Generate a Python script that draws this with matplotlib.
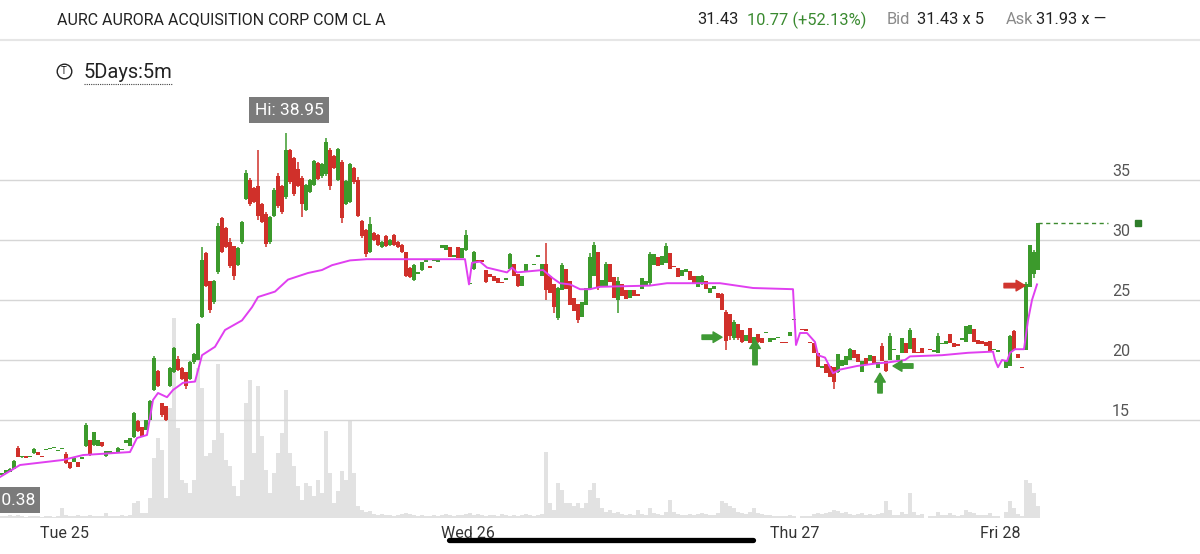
import matplotlib.pyplot as plt
import numpy as np
from matplotlib.lines import Line2D

plt.rcParams['font.family'] = ['Roboto', 'DejaVu Sans']

# 5 minute bars, AURC, one list entry per bar (nan = no trade)
opens = [
    10.4, 10.55, 10.7, 10.95, 12.7, 11.9, 11.88, 11.9, 12.25, 12.3,
    11.93, 12.48, 12.55, 12.63, 12.4, 12.55, 12.2, 11.5, 11.5, 11.5,
    11.78, 12.8, 13.3, 12.9, 12.8, 13.2, 12.0, 12.28, 12.28, 12.3,
    12.48, 13.1, 12.8, 13.6, 14.9, 14.4, 14.2, 15.0, 17.5, 19.1,
    16.4, 16.2, 17.8, 19.0, 20.1, 19.3, 19.0, 18.4, 19.8, 20.0,
    23.6, 28.9, 26.6, 24.8, 27.3, 31.8, 31.0, 29.8, 29.5, 27.9,
    29.8, 33.4, 35.0, 34.3, 34.5, 33.0, 32.2, 29.8, 32.0, 35.3,
    34.5, 33.6, 37.5, 36.8, 35.9, 35.2, 32.5, 34.0, 34.6, 36.4,
    35.3, 35.5, 37.5, 37.0, 35.0, 36.5, 33.0, 33.2, 36.0, 35.0,
    31.6, 30.8, 29.0, 30.6, 30.4, 29.4, 30.3, 29.6, 30.4, 29.8,
    29.6, 29.0, 27.7, 26.7, 27.2, 27.5, 28.2, 27.73, 28.25, 28.2,
    29.3, 29.2, 29.4, 28.6, 29.4, 28.5, 29.2, 26.3, 27.6, 28.23,
    28.23, 27.5, 27.2, 27.0, 26.8, 26.43, 26.7, 27.6, 28.0, 27.2,
    26.2, 27.3, 27.3, 27.9, 28.6, 27.0, 28.0, 27.0, 26.3, 23.5,
    25.8, 27.6, 26.6, 25.2, 24.7, 23.6, 24.6, 25.9, 27.0, 29.0,
    26.2, 26.2, 28.0, 26.9, 25.0, 26.3, 25.8, 25.2, 25.8, 25.5,
    25.9, 26.2, 26.4, 27.9, 28.6, 27.9, 28.1, 28.9, 27.78, 27.7,
    27.0, 27.3, 27.4, 27.0, 26.1, 26.3, 26.6, 25.6, 25.9, 25.6,
    25.5, 24.0, 23.8, 21.8, 23.0, 22.5, 21.6, 22.7, 21.4, 22.2,
    21.8, 22.25, 21.5, 21.7, 21.8, 21.42, 21.42, 22.0, 23.3, np.nan,
    22.53, 22.48, 21.43, 21.4, 20.6, 19.3, 19.7, 19.5, 19.4, 19.0,
    19.5, 19.6, 20.0, 20.8, 20.5, 19.0, 20.2, 19.9, 20.3, 19.3,
    21.2, 19.9, 20.0, 20.8, 20.0, 20.6, 21.4, 20.9, 21.8, 20.58,
    21.0, np.nan, 20.83, 20.7, 20.6, 21.3, 21.3, 22.2, 21.4, 21.23,
    21.7, 21.5, 22.2, 22.6, 21.7, 21.6, 21.5, 21.6, 20.8, 20.7,
    np.nan, 19.3, 19.5, 22.4, 20.5, 19.33, 20.8, 26.1, 27.2, 27.5,
]
closes = [
    10.55, 10.8, 10.95, 11.6, 11.95, 11.9, 11.85, 11.92, 12.6, 12.1,
    11.9, 12.5, 12.57, 12.65, 12.42, 12.57, 11.4, 11.0, 11.8, 11.1,
    11.8, 14.6, 12.1, 14.0, 13.3, 12.8, 12.4, 12.3, 12.25, 12.7,
    12.5, 13.3, 13.5, 15.6, 14.1, 13.6, 15.0, 16.6, 20.2, 17.8,
    15.4, 15.0, 19.3, 21.0, 19.2, 18.4, 17.8, 19.8, 20.5, 23.0,
    28.3, 26.2, 24.2, 26.6, 31.2, 29.0, 29.4, 27.8, 27.0, 29.3,
    31.5, 35.6, 33.0, 33.2, 32.0, 31.5, 29.7, 31.9, 34.2, 32.8,
    32.3, 37.5, 34.8, 33.8, 34.5, 33.0, 34.6, 35.0, 36.6, 35.1,
    36.3, 38.2, 34.5, 36.0, 37.6, 31.8, 34.9, 36.3, 34.8, 32.0,
    30.3, 28.8, 31.3, 30.0, 29.6, 29.8, 29.5, 30.0, 29.6, 29.4,
    29.0, 27.0, 26.9, 27.9, 27.22, 28.2, 28.22, 27.7, 28.27, 28.22,
    29.6, 29.6, 28.6, 28.62, 28.5, 29.3, 30.4, 26.32, 29.0, 28.2,
    28.2, 26.5, 26.9, 26.6, 26.4, 26.4, 26.72, 28.8, 27.0, 26.2,
    27.0, 28.0, 27.32, 27.92, 28.62, 28.0, 25.8, 25.6, 24.4, 26.0,
    27.9, 25.9, 24.6, 24.1, 23.3, 24.8, 26.0, 28.6, 29.6, 26.0,
    26.7, 28.0, 26.5, 25.2, 26.6, 25.3, 25.1, 25.8, 25.3, 25.3,
    26.8, 26.6, 28.8, 28.8, 27.8, 28.7, 29.5, 27.6, 27.75, 26.9,
    27.5, 27.6, 26.7, 26.4, 27.0, 27.0, 25.9, 26.0, 26.2, 25.2,
    24.2, 21.6, 22.0, 23.2, 21.8, 21.5, 22.1, 21.4, 21.9, 21.5,
    21.4, 22.27, 21.8, 21.72, 21.82, 21.4, 21.4, 22.3, 23.32, np.nan,
    22.5, 22.45, 21.4, 20.6, 19.4, 19.5, 18.9, 18.6, 18.2, 20.5,
    20.0, 20.3, 20.9, 20.2, 19.8, 19.9, 19.7, 20.4, 19.7, 19.8,
    19.9, 19.1, 22.0, 20.82, 20.4, 21.8, 20.6, 22.5, 20.6, 20.55,
    20.6, np.nan, 20.8, 20.72, 22.0, 21.32, 21.6, 21.4, 21.1, 21.2,
    21.72, 22.8, 22.9, 21.5, 21.3, 21.3, 21.2, 20.7, 20.82, 20.72,
    np.nan, 20.0, 22.0, 20.8, 20.2, 19.3, 26.3, 29.6, 29.0, 31.43,
]
highs = [
    10.6, 10.85, 11.0, 11.7, 12.8, 11.95, 11.88, 11.92, 12.7, 12.3,
    11.93, 12.5, 12.57, 12.65, 12.42, 12.57, 12.3, 11.5, 11.8, 11.5,
    11.8, 14.75, 13.3, 14.0, 13.3, 13.2, 12.4, 12.3, 12.28, 12.75,
    12.5, 13.3, 13.5, 15.7, 15.0, 14.4, 15.0, 16.7, 20.3, 19.2,
    16.4, 16.2, 19.4, 21.1, 20.3, 19.4, 19.0, 19.9, 20.6, 23.1,
    29.4, 29.0, 26.6, 26.7, 31.4, 31.9, 31.1, 30.2, 29.5, 29.4,
    31.6, 35.8, 35.2, 34.4, 37.5, 33.1, 32.3, 32.0, 34.3, 35.6,
    34.6, 38.95, 37.6, 36.9, 36.5, 35.3, 34.7, 35.1, 36.7, 36.5,
    36.4, 38.5, 37.7, 37.1, 37.7, 36.7, 35.0, 36.4, 36.1, 35.25,
    31.7, 30.9, 31.9, 30.7, 30.5, 29.9, 30.4, 30.1, 30.5, 29.9,
    29.7, 29.0, 27.75, 28.0, 27.22, 28.2, 28.22, 27.73, 28.27, 28.22,
    29.6, 29.6, 29.4, 28.62, 29.4, 29.3, 30.8, 26.32, 29.1, 28.23,
    28.23, 27.5, 27.2, 27.0, 26.8, 26.43, 26.72, 28.9, 28.0, 27.2,
    27.0, 28.0, 27.32, 27.92, 28.62, 28.0, 29.75, 27.0, 26.3, 26.1,
    28.1, 27.6, 26.6, 25.2, 24.7, 24.8, 26.0, 28.9, 29.8, 29.0,
    26.7, 28.2, 28.0, 26.9, 26.9, 26.3, 25.8, 25.8, 25.8, 25.5,
    26.8, 26.6, 29.0, 28.8, 28.6, 28.7, 29.75, 28.9, 27.78, 27.7,
    27.5, 27.6, 27.4, 27.0, 27.0, 27.1, 26.6, 26.0, 26.2, 25.6,
    25.6, 24.2, 23.8, 23.3, 23.0, 22.5, 22.1, 22.7, 21.9, 22.2,
    21.8, 22.27, 21.8, 21.72, 21.82, 21.42, 21.42, 22.3, 23.32, np.nan,
    22.53, 22.48, 21.43, 21.4, 20.6, 19.5, 19.7, 19.5, 19.4, 20.5,
    20.0, 20.3, 21.0, 20.8, 20.5, 19.9, 20.2, 20.4, 20.3, 19.8,
    21.4, 19.9, 22.25, 20.82, 20.4, 21.8, 21.4, 22.7, 21.8, 20.58,
    21.0, np.nan, 20.83, 20.72, 22.25, 21.32, 21.6, 22.2, 21.4, 21.23,
    21.72, 22.8, 22.9, 22.6, 21.7, 21.6, 21.5, 21.6, 20.82, 20.72,
    np.nan, 20.0, 22.1, 22.5, 20.5, 19.33, 26.5, 29.6, 29.2, 31.43,
]
lows = [
    10.38, 10.5, 10.65, 10.9, 11.9, 11.85, 11.85, 11.9, 12.2, 12.05,
    11.9, 12.48, 12.55, 12.63, 12.4, 12.55, 11.3, 10.9, 11.5, 11.1,
    11.78, 12.75, 12.0, 12.8, 12.8, 12.75, 11.9, 12.28, 12.25, 12.3,
    12.48, 13.1, 12.8, 13.5, 14.0, 13.6, 14.2, 15.0, 17.4, 17.75,
    15.25, 14.9, 17.75, 18.9, 19.1, 18.3, 17.6, 18.3, 19.7, 20.0,
    23.5, 26.1, 23.9, 24.7, 27.2, 28.9, 29.3, 27.7, 26.7, 27.8,
    29.7, 33.3, 32.8, 33.1, 31.7, 31.4, 29.4, 29.7, 31.9, 32.7,
    32.2, 33.4, 34.7, 33.7, 34.4, 31.9, 32.4, 33.9, 34.5, 35.0,
    35.2, 35.3, 34.2, 35.9, 34.9, 31.4, 32.9, 33.1, 34.7, 31.9,
    30.2, 28.6, 28.9, 29.9, 29.5, 29.3, 29.4, 29.5, 29.5, 29.3,
    28.9, 26.9, 26.8, 26.6, 27.2, 27.4, 28.2, 27.7, 28.25, 28.2,
    29.3, 29.2, 28.6, 28.6, 28.5, 28.5, 29.1, 26.3, 27.5, 28.2,
    28.2, 26.4, 26.9, 26.6, 26.4, 26.4, 26.7, 27.6, 27.0, 26.1,
    26.2, 27.3, 27.3, 27.9, 28.6, 27.0, 25.0, 25.6, 23.9, 23.3,
    25.8, 25.9, 24.6, 24.1, 23.1, 23.6, 24.6, 25.9, 27.0, 25.8,
    26.2, 26.2, 26.5, 25.2, 23.9, 25.3, 25.1, 25.2, 25.3, 25.3,
    25.9, 26.2, 26.25, 27.9, 27.8, 27.9, 28.1, 27.6, 27.75, 26.9,
    27.0, 27.3, 26.7, 26.4, 26.1, 26.25, 25.9, 25.6, 25.9, 25.2,
    24.2, 20.8, 21.7, 21.7, 21.7, 21.4, 21.6, 21.4, 21.4, 21.4,
    21.4, 22.25, 21.5, 21.7, 21.8, 21.4, 21.4, 22.0, 23.3, np.nan,
    22.5, 22.45, 21.4, 20.6, 19.4, 19.3, 18.9, 18.6, 17.6, 18.9,
    19.5, 19.6, 20.0, 20.2, 19.8, 19.0, 19.7, 19.9, 19.7, 19.3,
    19.9, 19.0, 20.0, 20.8, 20.0, 20.6, 20.6, 20.9, 20.6, 20.55,
    20.6, np.nan, 20.8, 20.7, 20.6, 21.3, 21.3, 21.4, 21.1, 21.2,
    21.7, 21.5, 22.2, 21.5, 21.3, 21.3, 21.2, 20.7, 20.8, 20.7,
    np.nan, 19.3, 19.5, 20.8, 20.2, 19.3, 20.8, 26.1, 26.8, 27.5,
]
# volume per bar (thousands of shares)
volume = [
    2, 2, 3, 2, 3, 2, 1, 2, 2, 2, 1, 2, 2, 1, 2, 10,
    3, 2, 2, 3, 2, 2, 3, 2, 2, 2, 5, 2, 2, 2, 3, 2, 3,
    15, 17, 5, 5, 20, 60, 80, 68, 20, 110, 200, 90, 38, 35, 25, 38, 150,
    130, 62, 65, 78, 154, 85, 58, 52, 32, 22, 38, 115, 138, 65, 132, 82,
    48, 25, 45, 65, 85, 128, 65, 52, 32, 18, 35, 32, 22, 38, 25, 87,
    45, 15, 27, 47, 38, 98, 45, 12,
    8, 6, 7, 4, 3, 4, 3, 3, 2, 3, 4, 5, 4, 3, 2, 3, 2, 2, 3, 2,
    3, 4, 3, 2, 3, 3, 4, 5, 3, 4, 3, 2, 3, 3, 2, 4, 3, 2, 3, 2,
    3, 4, 3, 2, 3, 4,
    66, 15, 8, 35, 28, 15, 15, 12, 15, 10, 15, 28, 35, 20, 10, 6,
    8, 5, 6, 4, 3, 4, 3, 8, 4, 3, 10, 5, 4, 3, 6, 18, 6, 4, 3, 3,
    4, 3, 4, 5, 4, 3, 3, 5, 17, 15, 12, 10, 6, 5, 4, 6, 10, 5, 4, 3,
    3, 2, 2, 2, 2, 3, 2, 0, 2, 2, 2, 4, 5, 4, 5, 6, 8, 7, 5, 6,
    4, 3, 4, 5, 3, 4, 3, 4, 5, 17, 8, 3, 3, 6, 4, 25, 6, 3, 4, 0,
    2, 2, 6, 3, 3, 5, 3, 2, 3, 8, 6, 5, 3, 3, 3, 5, 2, 2, 0, 6,
    17, 10, 4, 2, 38, 35, 25, 12,
]
# VWAP line vertices (bar position, price)
vwap_x = [-0.5, 4.5, 15.25, 20.25, 32, 33.75, 36.25, 37.75, 39, 41.25,
          42.75, 45.25, 48.25, 50, 53.25, 55.75, 60, 62.5, 64, 68.25,
          71.5, 76.5, 80, 82.5, 87, 91.25, 115.75, 116.75, 117.5, 119.5,
          121.25, 126.25, 127.5, 128.75, 135.25, 137.75, 139.5, 142, 144.5, 147,
          149.5, 162, 166.25, 179.5, 187.75, 197.75, 198.5, 199.5, 201.25, 203.25,
          204, 205.75, 207, 207.75, 209.5, 213.75, 218.25, 221.5, 225.75, 227,
          235, 241.5, 247.75, 248.25, 249, 250, 251.25, 252, 253.25, 255.5,
          256.5, 257.5, 258.75]
vwap_y = [10.25, 11.25, 11.67, 12.08, 12.33, 13.5, 13.75, 16.67, 17.25, 16.9,
          17.5, 18.1, 18.2, 20.4, 21.1, 22.5, 23.3, 24.4, 25.25, 25.7,
          26.7, 27.25, 27.5, 27.9, 28.3, 28.4, 28.4, 26.3, 28.1, 28.2,
          27.7, 27.3, 27.7, 27.3, 27.5, 26.8, 26.4, 26.3, 25.9, 25.9,
          26.1, 26.2, 26.4, 26.4, 26.0, 25.9, 21.25, 22.25, 22.25, 21.5,
          20.4, 20.2, 19.4, 18.9, 19.2, 19.5, 19.7, 19.8, 20.0, 20.3,
          20.4, 20.6, 20.7, 20.0, 19.4, 20.0, 19.9, 20.6, 20.9, 20.9,
          23.3, 25.0, 26.3]

day_labels = ["Tue 25", "Wed 26", "Thu 27", "Fri 28"]
day_pos = [15.5, 116.5, 198.25, 249.5]
grid_levels = [15, 20, 25, 30, 35]

# hand drawn arrows: (tail x, tail y, head x, head y, colour)
arrows = [
    (175, 21.9, 180, 21.9, "#3f9a35"),
    (188.25, 19.6, 188.25, 21.7, "#3f9a35"),
    (227.75, 19.5, 222.75, 19.5, "#3f9a35"),
    (219.5, 17.25, 219.5, 18.9, "#3f9a35"),
    (250.5, 26.2, 255.75, 26.2, "#d0352e"),
]

GREEN = "#3c9a2c"
RED = "#d0302a"
MAGENTA = "#e03ff0"

W, H = 1200, 554


def fx(px):
    return px / W


def fy(py):
    return 1 - py / H


fig = plt.figure(figsize=(12, 5.54), dpi=100)

rect = [0, fy(520), 1, 400 / H]
ax_vol = fig.add_axes(rect)
ax = fig.add_axes(rect, sharex=ax_vol)
for a in (ax_vol, ax):
    a.set_axis_off()
ax.set_xlim(-0.5, 299.5)
ax.set_ylim(20 / 3, 40)
ax_vol.set_ylim(-2, 398)

# volume
idx = np.arange(len(closes))
ax_vol.bar(idx, volume, width=0.8, color="#e2e2e2", linewidth=0)

# grid + right price labels
for lvl in grid_levels:
    ax.axhline(lvl, color="#d6d6d6", lw=1, zorder=0)
    ax.text(279.75, lvl + 0.75, str(lvl), ha="center", va="center",
            fontsize=11.5, color="#555555")

# candles
o = np.array(opens)
c = np.array(closes)
h = np.array(highs)
l = np.array(lows)
ok = ~np.isnan(c)
cols = np.where(c >= o, GREEN, RED)
ax.vlines(idx[ok], l[ok], h[ok], colors=cols[ok], lw=1.1, zorder=3)
body_lo = np.minimum(o, c)
body_h = np.maximum(np.abs(c - o), 0.12)
ax.bar(idx[ok], body_h[ok], bottom=body_lo[ok], width=0.85,
       color=cols[ok], linewidth=0, zorder=3)

# vwap
ax.plot(vwap_x, vwap_y, color=MAGENTA, lw=1.4, zorder=4)

# last price extension
ax.plot([idx[-1], 276.5], [c[-1], c[-1]], color="#3c8a2e", lw=1,
        ls=(0, (3, 2.5)), zorder=3)
ax.plot(284, c[-1], marker="s", ms=4.5, color="#2e7d2a", zorder=4)

# hi / lo tags
hi_i = int(np.nanargmax(h))
box = dict(boxstyle="square,pad=0.3", fc="#7b7b7b", ec="none")
ax.text(hi_i + 0.75, 40.83, f"Hi: {np.nanmax(h):.2f}", ha="center",
        va="center", fontsize=12.5, color="white", bbox=box, clip_on=False)
ax.text(8.3, 8.33, f"Lo: {np.nanmin(l):.2f}", ha="right", va="center",
        fontsize=12.5, color="white", bbox=box, clip_on=False)

# arrows
for x0, y0, x1, y1, col in arrows:
    ax.annotate("", xy=(x1, y1), xytext=(x0, y0),
                arrowprops=dict(arrowstyle="simple,head_length=0.8,head_width=0.95,tail_width=0.4",
                                color=col, shrinkA=0, shrinkB=0, mutation_scale=8),
                zorder=6)

# day labels
for pos, lab in zip(day_pos, day_labels):
    ax.text(pos, (600 - 533) / 12, lab, ha="center", va="center",
            fontsize=11.5, color="#333333", clip_on=False)

# header
fig.text(fx(57), fy(20), "AURC AURORA ACQUISITION CORP COM CL A",
         fontsize=11.5, color="#222222", va="center")
hdr = [
    (697, "31.43", "#222222"),
    (747, "10.77 (+52.13%)", "#3a8a30"),
    (887, "Bid", "#8a8a8a"),
    (917, "31.43 x 5", "#222222"),
    (1006, "Ask", "#8a8a8a"),
    (1036, "31.93 x \u2014", "#222222"),
]
for px, s, col in hdr:
    fig.text(fx(px), fy(20), s, fontsize=11.8, color=col, va="center")
fig.add_artist(Line2D([0, 1], [fy(40), fy(40)], color="#e6e6e6", lw=1.5))

# period selector
fig.add_artist(Line2D([fx(64)], [fy(71)], marker="o", ms=10.5, mfc="none",
                      mec="#222222", mew=1))
fig.text(fx(64), fy(71), "T", fontsize=7, ha="center", va="center",
         color="#222222")
fig.text(fx(84), fy(72), "5Days:5m", fontsize=14.5, color="#222222",
         va="center")
fig.add_artist(Line2D([fx(84), fx(172)], [fy(84), fy(84)], color="#444444",
                      lw=0.8, ls=(0, (1, 1))))

# home indicator
fig.add_artist(Line2D([fx(449), fx(753)], [fy(540), fy(540)], color="black",
                      lw=3.8, solid_capstyle="round"))

fig.savefig("out.png", dpi=100)
